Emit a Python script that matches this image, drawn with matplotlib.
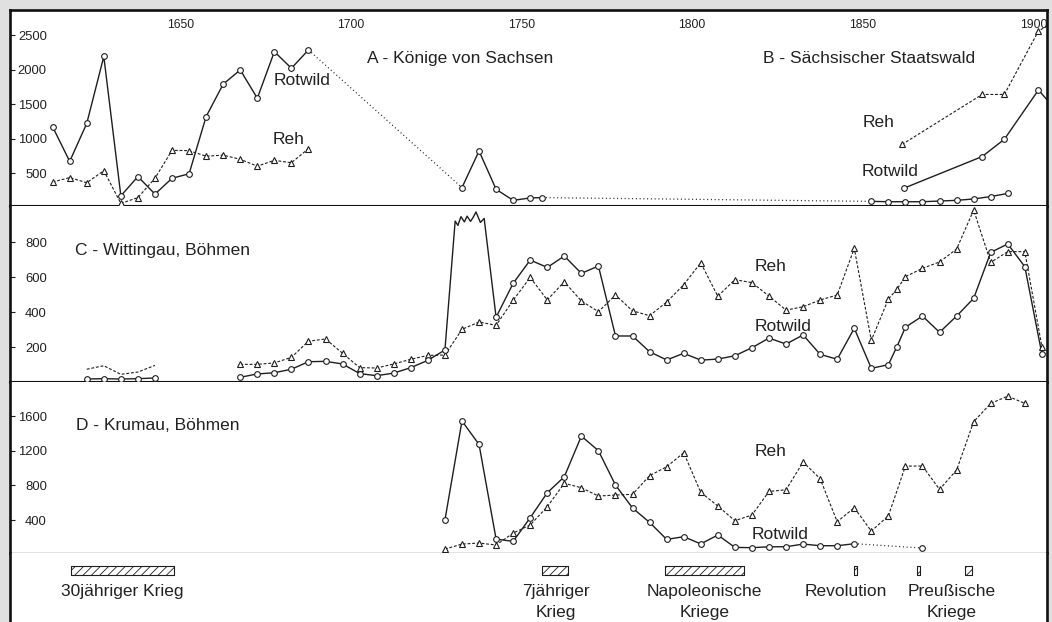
import matplotlib
matplotlib.use("Agg")
import matplotlib.pyplot as plt

plt.rcParams['font.family'] = ['Liberation Sans', 'DejaVu Sans']
plt.rcParams['hatch.linewidth'] = 0.6

INK = '#1e1e1e'
BG = '#e0e0e0'

# ---------------- Panel A / B: Sachsen ----------------
a_years = [1612.5, 1617.5, 1622.5, 1627.5, 1632.5, 1637.5, 1642.5, 1647.5,
           1652.5, 1657.5, 1662.5, 1667.5, 1672.5, 1677.5, 1682.5, 1687.5]
a_rotwild = [1170, 670, 1220, 2190, 170, 450, 195, 425,
             490, 1320, 1790, 1995, 1585, 2260, 2020, 2285]
a_reh = [370, 435, 360, 535, 60, 145, 425, 830,
         825, 745, 760, 700, 600, 685, 650, 855]
a_rotwild_mid_years = [1732.5, 1737.5, 1742.5, 1747.5, 1752.5, 1756]
a_rotwild_mid = [290, 820, 265, 105, 140, 145]
a_rotwild_late_years = [1852.5, 1857.5, 1862.5, 1867.5, 1872.5, 1877.5,
                        1882.5, 1887.5, 1892.5]
a_rotwild_late = [90, 85, 85, 85, 95, 105, 125, 160, 205]

b_rotwild_years = [1862, 1885, 1891.5, 1901.5, 1906.5]
b_rotwild = [280, 740, 990, 1705, 1420]
b_reh_years = [1861.5, 1885, 1891.5, 1901.5, 1906.5]
b_reh = [915, 1640, 1640, 2560, 2700]

# ---------------- Panel C: Wittingau ----------------
c_early_years = [1622.5, 1627.5, 1632.5, 1637.5, 1642.5]
c_early_reh = [73, 93, 44, 57, 95]
c_early_rotwild = [17, 19, 17, 19, 23]

c_reh_years = [1667.5, 1672.5, 1677.5, 1682.5, 1687.5, 1692.5, 1697.5, 1702.5,
               1707.5, 1712.5, 1717.5, 1722.5, 1727.5, 1732.5, 1737.5, 1742.5,
               1747.5, 1752.5, 1757.5, 1762.5, 1767.5, 1772.5, 1777.5, 1782.5,
               1787.5, 1792.5, 1797.5, 1802.5, 1807.5, 1812.5, 1817.5, 1822.5,
               1827.5, 1832.5, 1837.5, 1842.5, 1847.5, 1852.5, 1857.5, 1860,
               1862.5, 1867.5, 1872.5, 1877.5, 1882.5, 1887.5, 1892.5, 1897.5,
               1902.5]
c_reh = [101, 101, 109, 141, 233, 246, 164, 82,
         80, 103, 130, 152, 154, 301, 343, 324,
         467, 598, 469, 573, 463, 402, 497, 407,
         379, 457, 556, 681, 490, 585, 568, 491,
         411, 430, 469, 497, 764, 238, 474, 530,
         602, 650, 686, 760, 983, 684, 745, 745,
         202]

c_rotwild_years = [1667.5, 1672.5, 1677.5, 1682.5, 1687.5, 1692.5, 1697.5, 1702.5,
                   1707.5, 1712.5, 1717.5, 1722.5, 1727.5, 1742.5,
                   1747.5, 1752.5, 1757.5, 1762.5, 1767.5, 1772.5, 1777.5, 1782.5,
                   1787.5, 1792.5, 1797.5, 1802.5, 1807.5, 1812.5, 1817.5, 1822.5,
                   1827.5, 1832.5, 1837.5, 1842.5, 1847.5, 1852.5, 1857.5, 1860,
                   1862.5, 1867.5, 1872.5, 1877.5, 1882.5, 1887.5, 1892.5, 1897.5,
                   1902.5]
c_rotwild = [27, 46, 53, 73, 116, 118, 103, 48,
             36, 51, 82, 124, 183, 370,
             564, 697, 655, 720, 621, 663, 263, 263,
             173, 126, 164, 125, 131, 150, 196, 251,
             217, 269, 158, 130, 307, 78, 99, 202,
             313, 377, 284, 377, 478, 741, 789, 659,
             160]
# yearly counts 1730-1739 (no period markers)
c_rotwild_yearly_years = [1730.5, 1731.3, 1732.2, 1733.2, 1734, 1735,
                          1735.8, 1736.6, 1737.9, 1739]
c_rotwild_yearly = [920, 895, 945, 915, 948, 918, 942, 972, 912, 935]

# ---------------- Panel D: Krumau ----------------
d_reh_years = [1727.5, 1732.5, 1737.5, 1742.5, 1747.5, 1752.5, 1757.5, 1762.5,
               1767.5, 1772.5, 1777.5, 1782.5, 1787.5, 1792.5, 1797.5, 1802.5,
               1807.5, 1812.5, 1817.5, 1822.5, 1827.5, 1832.5, 1837.5, 1842.5,
               1847.5, 1852.5, 1857.5, 1862.5, 1867.5, 1872.5, 1877.5, 1882.5,
               1887.5, 1892.5, 1897.5]
d_reh = [65, 123, 135, 112, 250, 343, 554, 824,
         773, 677, 689, 697, 912, 1015, 1177, 720,
         562, 393, 458, 730, 750, 1070, 877, 381,
         542, 273, 449, 1023, 1023, 754, 977, 1535,
         1746, 1830, 1746]
d_rotwild_years = [1727.5, 1732.5, 1737.5, 1742.5, 1747.5, 1752.5, 1757.5, 1762.5,
                   1767.5, 1772.5, 1777.5, 1782.5, 1787.5, 1792.5, 1797.5, 1802.5,
                   1807.5, 1812.5, 1817.5, 1822.5, 1827.5, 1832.5, 1837.5, 1842.5,
                   1847.5]
d_rotwild = [400, 1543, 1273, 181, 154, 427, 715, 900,
             1369, 1200, 804, 539, 373, 177, 208, 125,
             227, 85, 81, 92, 92, 123, 104, 104,
             127]
d_rotwild_last_year = [1867.5]
d_rotwild_last = [77]

# ---------------- Wars ----------------
war_labels = ['30jähriger Krieg', '7jähriger\nKrieg', 'Napoleonische\nKriege',
              'Revolution', 'Preußische\nKriege']
war_label_years = [1633, 1760, 1803.5, 1845, 1876]
war_spans = [(1618, 1648), (1756, 1763.5), (1792, 1815.3),
             (1847.5, 1848.4), (1866, 1866.9), (1880, 1882)]

x_ticks = [1650, 1700, 1750, 1800, 1850, 1900]

# ---------------- Layout ----------------
W, H = 1052, 622
fig = plt.figure(figsize=(W / 100, H / 100), dpi=100, facecolor=BG)


def add_panel(top_px, bottom_px):
    return fig.add_axes([10 / W, 1 - bottom_px / H, 1037 / W,
                         (bottom_px - top_px) / H])


axA = add_panel(10, 206)
axC = add_panel(206, 382)
axD = add_panel(382, 553)
axW = add_panel(553, 622)

XLIM = (1600, 1904)
solid = dict(color=INK, lw=1.0, ls='-')
dashed = dict(color=INK, lw=0.8, ls=(0, (2.6, 1.6)))
dotted = dict(color=INK, lw=0.9, ls=(0, (0.8, 2.2)))
circ = dict(marker='o', ms=4.1, mfc='white', mec=INK, mew=0.8, ls='none', zorder=4)
tri = dict(marker='^', ms=4.1, mfc='white', mec=INK, mew=0.8, ls='none', zorder=4)


def series(ax, xs, ys, line, mk=None):
    ax.plot(xs, ys, **line)
    if mk is not None:
        ax.plot(xs, ys, **mk)


def connect(ax, x0, y0, x1, y1):
    ax.plot([x0, x1], [y0, y1], **dotted)


for ax in (axA, axC, axD, axW):
    ax.set_xlim(*XLIM)
    ax.set_facecolor('white')
    for s in ('left', 'right'):
        ax.spines[s].set_linewidth(1.9)
        ax.spines[s].set_color('#111111')
    ax.tick_params(axis='x', bottom=False, labelbottom=False)

# ---- Panel A/B
series(axA, a_years, a_rotwild, solid, circ)
series(axA, a_years, a_reh, dashed, tri)
connect(axA, a_years[-1], a_rotwild[-1], a_rotwild_mid_years[0], a_rotwild_mid[0])
series(axA, a_rotwild_mid_years, a_rotwild_mid, solid, circ)
connect(axA, a_rotwild_mid_years[-1], a_rotwild_mid[-1],
        a_rotwild_late_years[0], a_rotwild_late[0])
series(axA, a_rotwild_late_years, a_rotwild_late, solid, circ)
series(axA, b_rotwild_years, b_rotwild, solid, circ)
series(axA, b_reh_years, b_reh, dashed, tri)
axA.set_ylim(23, 2864)
axA.set_yticks([500, 1000, 1500, 2000, 2500])
axA.set_xticks(x_ticks)
axA.tick_params(axis='x', top=True, labeltop=True, length=0, pad=-15,
                labelsize=8.8, labelcolor='#222222')

# ---- Panel C
series(axC, c_early_years, c_early_reh, dashed)
series(axC, c_early_years, c_early_rotwild, solid, circ)
series(axC, c_reh_years, c_reh, dashed, tri)
rot_line = sorted(zip(c_rotwild_years + c_rotwild_yearly_years,
                      c_rotwild + c_rotwild_yearly))
axC.plot([p[0] for p in rot_line], [p[1] for p in rot_line], **solid)
axC.plot(c_rotwild_years, c_rotwild, **circ)
axC.set_ylim(0, 1006)
axC.set_yticks([200, 400, 600, 800])
axC.set_xticks([])

# ---- Panel D
series(axD, d_reh_years, d_reh, dashed, tri)
series(axD, d_rotwild_years, d_rotwild, solid, circ)
connect(axD, d_rotwild_years[-1], d_rotwild[-1], d_rotwild_last_year[0], d_rotwild_last[0])
axD.plot(d_rotwild_last_year, d_rotwild_last, **circ)
axD.set_ylim(20, 1993)
axD.set_yticks([400, 800, 1200, 1600])
axD.set_xticks([])

for ax in (axA, axC, axD):
    ax.tick_params(axis='y', direction='in', length=3.5, width=0.8, color=INK,
                   pad=-26.5, labelsize=9.4, labelcolor='#222222')

# spines between panels
axA.spines['top'].set_linewidth(1.9)
axA.spines['top'].set_color('#111111')
axA.spines['bottom'].set_linewidth(1.5)
axA.spines['bottom'].set_color('#111111')
axC.spines['top'].set_visible(False)
axC.spines['bottom'].set_linewidth(1.5)
axC.spines['bottom'].set_color('#111111')
axD.spines['top'].set_visible(False)
axD.spines['bottom'].set_linewidth(1.0)
axD.spines['bottom'].set_color('#6a6a6a')
axW.spines['top'].set_visible(False)
axW.spines['bottom'].set_visible(False)
axW.set_yticks([])
axW.set_xticks([])
axW.set_ylim(0, 1)

# ---- labels
FS = 12.5
tk = dict(fontsize=FS, color='#222222', ha='left', va='center')
axA.text(1704.8, 2154, 'A - Könige von Sachsen', **tk)
axA.text(1820.7, 2154, 'B - Sächsischer Staatswald', **tk)
axA.text(1677.2, 1849, 'Rotwild', **tk)
axA.text(1677.0, 980, 'Reh', **tk)
axA.text(1850.0, 1230, 'Reh', **tk)
axA.text(1849.7, 520, 'Rotwild', **tk)
axC.text(1619.2, 754, 'C - Wittingau, Böhmen', **tk)
axC.text(1818.2, 663, 'Reh', **tk)
axC.text(1818.2, 316, 'Rotwild', **tk)
axD.text(1619.4, 1496, 'D - Krumau, Böhmen', **tk)
axD.text(1818.2, 1196, 'Reh', **tk)
axD.text(1817.4, 239, 'Rotwild', **tk)

# ---- wars
for x0, x1 in war_spans:
    axW.broken_barh([(x0, x1 - x0)], (0.68, 0.13), facecolors='white',
                    edgecolors=INK, linewidth=0.8, hatch='////')
for lab, xl in zip(war_labels, war_label_years):
    axW.text(xl, 0.545, lab, fontsize=FS, color='#222222', ha='center', va='top',
             linespacing=1.5)

fig.savefig('out.png', dpi=100, facecolor=BG)
